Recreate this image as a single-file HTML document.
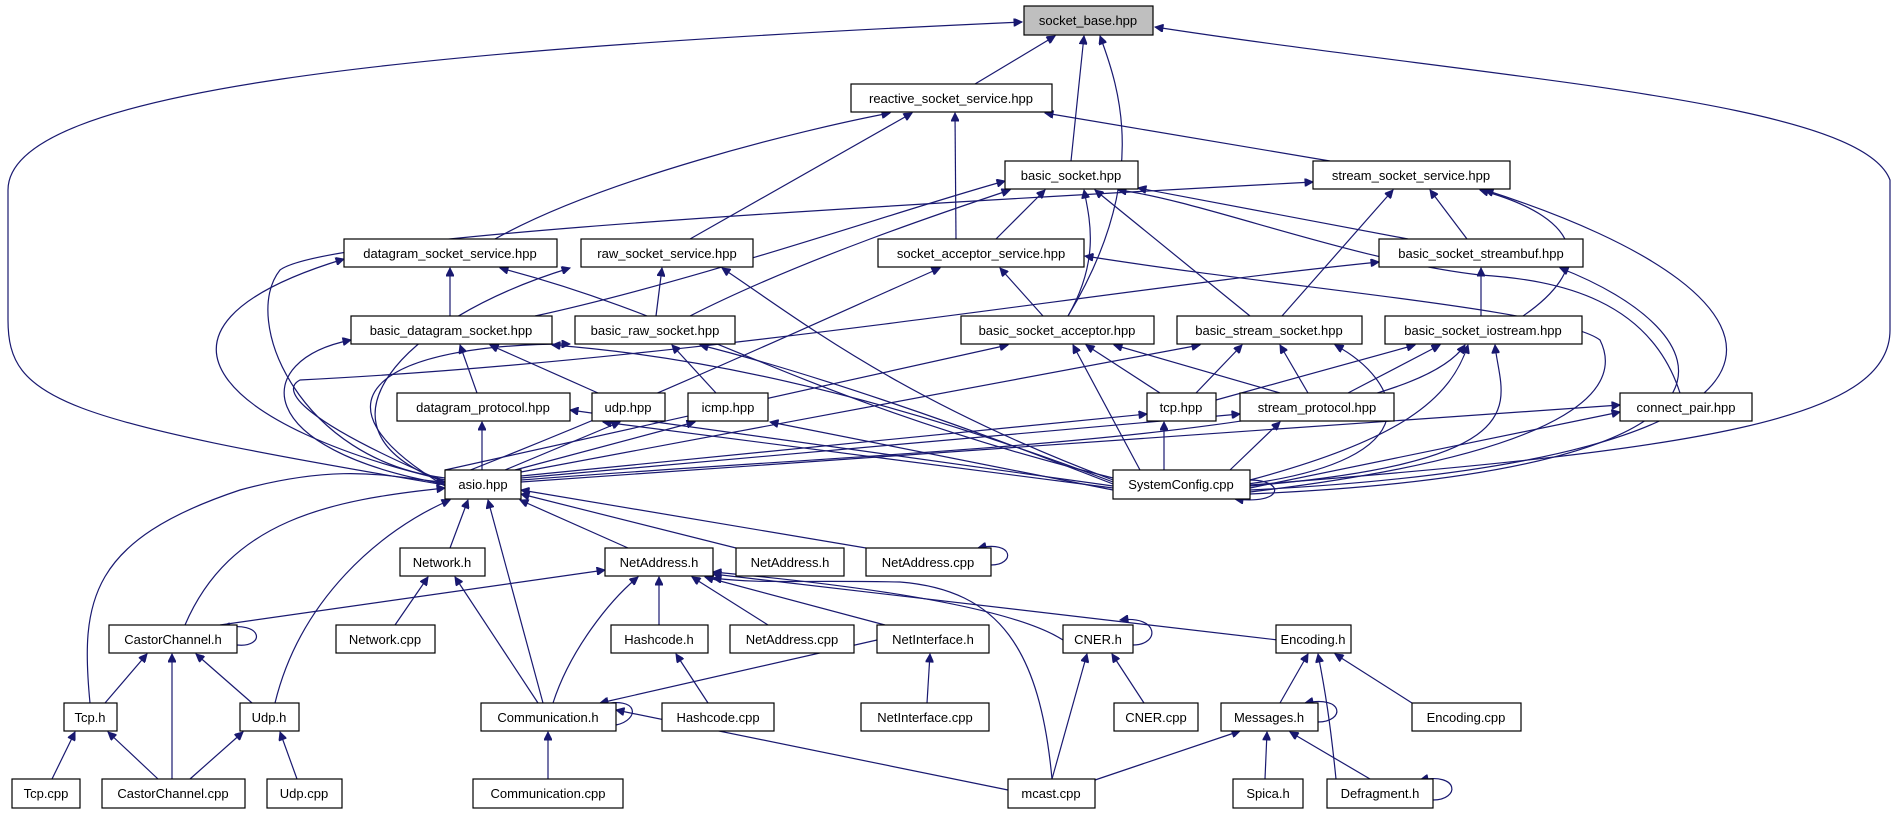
<!DOCTYPE html>
<html><head><meta charset="utf-8"><style>
body{margin:0;background:#fff}
svg{display:block}
text{font-family:"Liberation Sans",sans-serif;font-size:13px;text-anchor:middle}
rect{fill:#fff;stroke:#000;stroke-width:1.2}
path{fill:none;stroke:#191970;stroke-width:1.2}
</style></head><body>
<svg width="1896" height="813" viewBox="0 0 1896 813" xmlns="http://www.w3.org/2000/svg">
<defs><marker id="a" viewBox="0 0 10 10" refX="10" refY="5" markerWidth="10" markerHeight="8" markerUnits="userSpaceOnUse" orient="auto"><path d="M0,0 L10,5 L0,10 z" style="fill:#191970;stroke:#191970"/></marker></defs>
<g marker-end="url(#a)">
<!-- into socket_base -->
<path d="M975,84 L1055,36"/>
<path d="M1071,161 L1084,36"/>
<path d="M1068,316 C1150,180 1120,90 1100,36"/>
<path d="M445,485 C60,420 8,400 8,320 L8,190 C8,90 400,50 1022,22"/>
<path d="M1250,485 C1700,450 1890,420 1890,330 L1890,180 C1860,100 1500,80 1155,27"/>
<!-- into reactive -->
<path d="M495,239 C600,180 800,130 890,113"/>
<path d="M690,239 L912,113"/>
<path d="M956,239 L955,113"/>
<path d="M1330,161 L1045,113"/>
<!-- into basic_socket -->
<path d="M535,316 C700,280 900,210 1005,181"/>
<path d="M690,316 C800,260 950,210 1010,190"/>
<path d="M996,239 L1045,190"/>
<path d="M1068,316 C1100,260 1090,220 1084,190"/>
<path d="M1250,316 L1095,190"/>
<path d="M1408,239 L1138,188"/>
<path d="M1680,393 C1650,300 1560,280 1480,275 C1350,260 1200,200 1118,190"/>
<!-- into stream_socket_service -->
<path d="M445,478 C300,460 240,320 280,270 C320,240 700,215 1313,182"/>
<path d="M1282,316 L1393,190"/>
<path d="M1467,239 L1430,190"/>
<path d="M1523,316 C1590,270 1590,220 1480,190"/>
<path d="M1250,490 C1850,460 1830,300 1485,190"/>
<!-- datagram_socket_service -->
<path d="M445,480 C230,430 110,330 344,259"/>
<path d="M450,316 L450,268"/>
<path d="M1113,478 C800,400 700,320 500,268"/>
<path d="M445,482 C300,430 400,320 570,268"/>
<path d="M1113,480 C900,400 800,320 722,268"/>
<path d="M656,316 L662,268"/>
<!-- socket_acceptor_service -->
<path d="M1043,316 L1000,268"/>
<path d="M445,480 C650,400 800,330 940,268"/>
<path d="M1250,492 C1600,450 1620,380 1600,340 C1560,310 1300,290 1085,256"/>
<!-- basic_socket_streambuf -->
<path d="M445,482 C300,420 280,390 300,380 C700,360 1100,290 1379,262"/>
<path d="M1481,316 L1481,268"/>
<path d="M1250,494 C1800,470 1720,330 1560,268"/>
<!-- basic_datagram_socket -->
<path d="M445,484 C250,450 250,360 351,340"/>
<path d="M477,393 L460,345"/>
<path d="M598,393 L490,345"/>
<path d="M1113,482 C950,420 750,360 552,345"/>
<!-- basic_raw_socket -->
<path d="M445,486 C300,400 380,344 570,344"/>
<path d="M716,393 L672,345"/>
<path d="M1113,484 C950,420 800,370 700,345"/>
<!-- basic_socket_acceptor -->
<path d="M445,470 L1008,345"/>
<path d="M1140,470 L1073,345"/>
<path d="M1160,393 L1086,345"/>
<path d="M1280,393 L1114,345"/>
<!-- basic_stream_socket -->
<path d="M521,472 L1200,345"/>
<path d="M1196,393 L1242,345"/>
<path d="M1308,393 L1280,345"/>
<path d="M1240,485 C1440,460 1400,380 1335,345"/>
<!-- basic_socket_iostream -->
<path d="M1216,400 L1415,345"/>
<path d="M1348,393 L1440,345"/>
<path d="M1250,480 C1400,440 1450,400 1468,345"/>
<path d="M1250,486 C1550,460 1500,400 1495,345"/>
<path d="M521,480 C900,450 1400,440 1465,345"/>
<!-- tcp / stream_protocol / connect_pair -->
<path d="M521,476 L1147,414"/>
<path d="M1164,470 L1164,422"/>
<path d="M521,478 L1240,414"/>
<path d="M1230,470 L1280,422"/>
<path d="M521,482 L1620,405"/>
<path d="M1250,488 L1620,412"/>
<!-- datagram_protocol / udp / icmp -->
<path d="M482,470 L482,422"/>
<path d="M1113,486 L570,410"/>
<path d="M505,470 L620,422"/>
<path d="M1113,488 L603,422"/>
<path d="M515,470 L695,422"/>
<path d="M1113,490 L770,422"/>
<path d="M1250,480 C1285,480 1285,505 1235,499"/>
<!-- into asio -->
<path d="M90,703 C80,600 90,540 240,490 C350,460 400,480 445,482"/>
<path d="M185,625 C230,520 330,500 445,488"/>
<path d="M275,703 C300,600 380,530 450,500"/>
<path d="M450,548 L468,500"/>
<path d="M543,703 L488,500"/>
<path d="M628,548 L520,500"/>
<path d="M736,548 L521,494"/>
<path d="M866,548 L521,490"/>
<!-- lower -->
<path d="M395,625 L428,577"/>
<path d="M538,703 L455,577"/>
<path d="M220,625 L605,570"/>
<path d="M553,703 C570,650 610,600 638,577"/>
<path d="M659,625 L659,577"/>
<path d="M768,625 L692,577"/>
<path d="M885,625 L705,577"/>
<path d="M1063,640 C1000,600 800,580 713,572"/>
<path d="M1278,640 L713,574"/>
<path d="M1052,779 C1040,650 1000,590 900,582 C800,580 760,584 713,578"/>
<path d="M1250,560 C1300,600 1000,600 940,570 C920,560 890,560 713,566" style="display:none"/>
<path d="M105,703 L147,654"/>
<path d="M172,779 L172,654"/>
<path d="M252,703 L196,654"/>
<path d="M52,779 L75,732"/>
<path d="M158,779 L108,732"/>
<path d="M190,779 L243,732"/>
<path d="M297,779 L280,732"/>
<path d="M548,779 L548,732"/>
<path d="M1008,790 L616,710"/>
<path d="M877,640 L600,703"/>
<path d="M708,703 L676,654"/>
<path d="M927,703 L930,654"/>
<path d="M1052,779 L1087,654"/>
<path d="M1144,703 L1112,654"/>
<path d="M1321,625 L1297,654" style="display:none"/>
<path d="M1297,625 L1310,654" style="display:none"/>
<path d="M1280,703 L1308,654"/>
<path d="M1336,779 C1330,720 1325,690 1318,654"/>
<path d="M1412,703 L1335,654"/>
<path d="M1095,780 L1240,731"/>
<path d="M1265,779 L1267,732"/>
<path d="M1370,779 L1290,732"/>
<!-- self loops -->
<path d="M237,645 C265,648 265,620 222,628"/>
<path d="M616,725 C640,720 640,695 600,705"/>
<path d="M1133,645 C1160,645 1160,615 1120,620"/>
<path d="M991,565 C1015,565 1015,540 978,548"/>
<path d="M1318,722 C1345,722 1345,695 1305,703"/>
<path d="M1433,800 C1460,800 1460,772 1420,780"/>
</g>
<!-- nodes -->
<rect x="1024" y="6" width="129" height="29" style="fill:#bfbfbf"/><text x="1088" y="25">socket_base.hpp</text>
<rect x="851" y="84" width="201" height="28"/><text x="951" y="103">reactive_socket_service.hpp</text>
<rect x="1005" y="161" width="133" height="28"/><text x="1071" y="180">basic_socket.hpp</text>
<rect x="1313" y="161" width="197" height="28"/><text x="1411" y="180">stream_socket_service.hpp</text>
<rect x="344" y="239" width="213" height="28"/><text x="450" y="258">datagram_socket_service.hpp</text>
<rect x="581" y="239" width="172" height="28"/><text x="667" y="258">raw_socket_service.hpp</text>
<rect x="878" y="239" width="206" height="28"/><text x="981" y="258">socket_acceptor_service.hpp</text>
<rect x="1379" y="239" width="204" height="28"/><text x="1481" y="258">basic_socket_streambuf.hpp</text>
<rect x="351" y="316" width="201" height="28"/><text x="451" y="335">basic_datagram_socket.hpp</text>
<rect x="575" y="316" width="160" height="28"/><text x="655" y="335">basic_raw_socket.hpp</text>
<rect x="961" y="316" width="193" height="28"/><text x="1057" y="335">basic_socket_acceptor.hpp</text>
<rect x="1177" y="316" width="185" height="28"/><text x="1269" y="335">basic_stream_socket.hpp</text>
<rect x="1385" y="316" width="197" height="28"/><text x="1483" y="335">basic_socket_iostream.hpp</text>
<rect x="397" y="393" width="173" height="28"/><text x="483" y="412">datagram_protocol.hpp</text>
<rect x="592" y="393" width="73" height="28"/><text x="628" y="412">udp.hpp</text>
<rect x="688" y="393" width="80" height="28"/><text x="728" y="412">icmp.hpp</text>
<rect x="1147" y="393" width="69" height="28"/><text x="1181" y="412">tcp.hpp</text>
<rect x="1240" y="393" width="154" height="28"/><text x="1317" y="412">stream_protocol.hpp</text>
<rect x="1620" y="393" width="132" height="28"/><text x="1686" y="412">connect_pair.hpp</text>
<rect x="445" y="470" width="76" height="29"/><text x="483" y="489">asio.hpp</text>
<rect x="1113" y="470" width="137" height="29"/><text x="1181" y="489">SystemConfig.cpp</text>
<rect x="400" y="548" width="85" height="28"/><text x="442" y="567">Network.h</text>
<rect x="605" y="548" width="108" height="28"/><text x="659" y="567">NetAddress.h</text>
<rect x="736" y="548" width="108" height="28"/><text x="790" y="567">NetAddress.h</text>
<rect x="866" y="548" width="125" height="28"/><text x="928" y="567">NetAddress.cpp</text>
<rect x="109" y="625" width="128" height="28"/><text x="173" y="644">CastorChannel.h</text>
<rect x="336" y="625" width="99" height="28"/><text x="385" y="644">Network.cpp</text>
<rect x="611" y="625" width="97" height="28"/><text x="659" y="644">Hashcode.h</text>
<rect x="730" y="625" width="124" height="28"/><text x="792" y="644">NetAddress.cpp</text>
<rect x="877" y="625" width="112" height="28"/><text x="933" y="644">NetInterface.h</text>
<rect x="1063" y="625" width="70" height="28"/><text x="1098" y="644">CNER.h</text>
<rect x="1276" y="625" width="75" height="28"/><text x="1313" y="644">Encoding.h</text>
<rect x="64" y="703" width="53" height="28"/><text x="90" y="722">Tcp.h</text>
<rect x="240" y="703" width="59" height="28"/><text x="269" y="722">Udp.h</text>
<rect x="481" y="703" width="135" height="28"/><text x="548" y="722">Communication.h</text>
<rect x="662" y="703" width="112" height="28"/><text x="718" y="722">Hashcode.cpp</text>
<rect x="861" y="703" width="128" height="28"/><text x="925" y="722">NetInterface.cpp</text>
<rect x="1114" y="703" width="84" height="28"/><text x="1156" y="722">CNER.cpp</text>
<rect x="1221" y="703" width="97" height="28"/><text x="1269" y="722">Messages.h</text>
<rect x="1412" y="703" width="109" height="28"/><text x="1466" y="722">Encoding.cpp</text>
<rect x="12" y="779" width="68" height="29"/><text x="46" y="798">Tcp.cpp</text>
<rect x="102" y="779" width="143" height="29"/><text x="173" y="798">CastorChannel.cpp</text>
<rect x="267" y="779" width="75" height="29"/><text x="304" y="798">Udp.cpp</text>
<rect x="473" y="779" width="150" height="29"/><text x="548" y="798">Communication.cpp</text>
<rect x="1008" y="779" width="87" height="29"/><text x="1051" y="798">mcast.cpp</text>
<rect x="1233" y="779" width="70" height="29"/><text x="1268" y="798">Spica.h</text>
<rect x="1327" y="779" width="106" height="29"/><text x="1380" y="798">Defragment.h</text>
</svg>
</body></html>
